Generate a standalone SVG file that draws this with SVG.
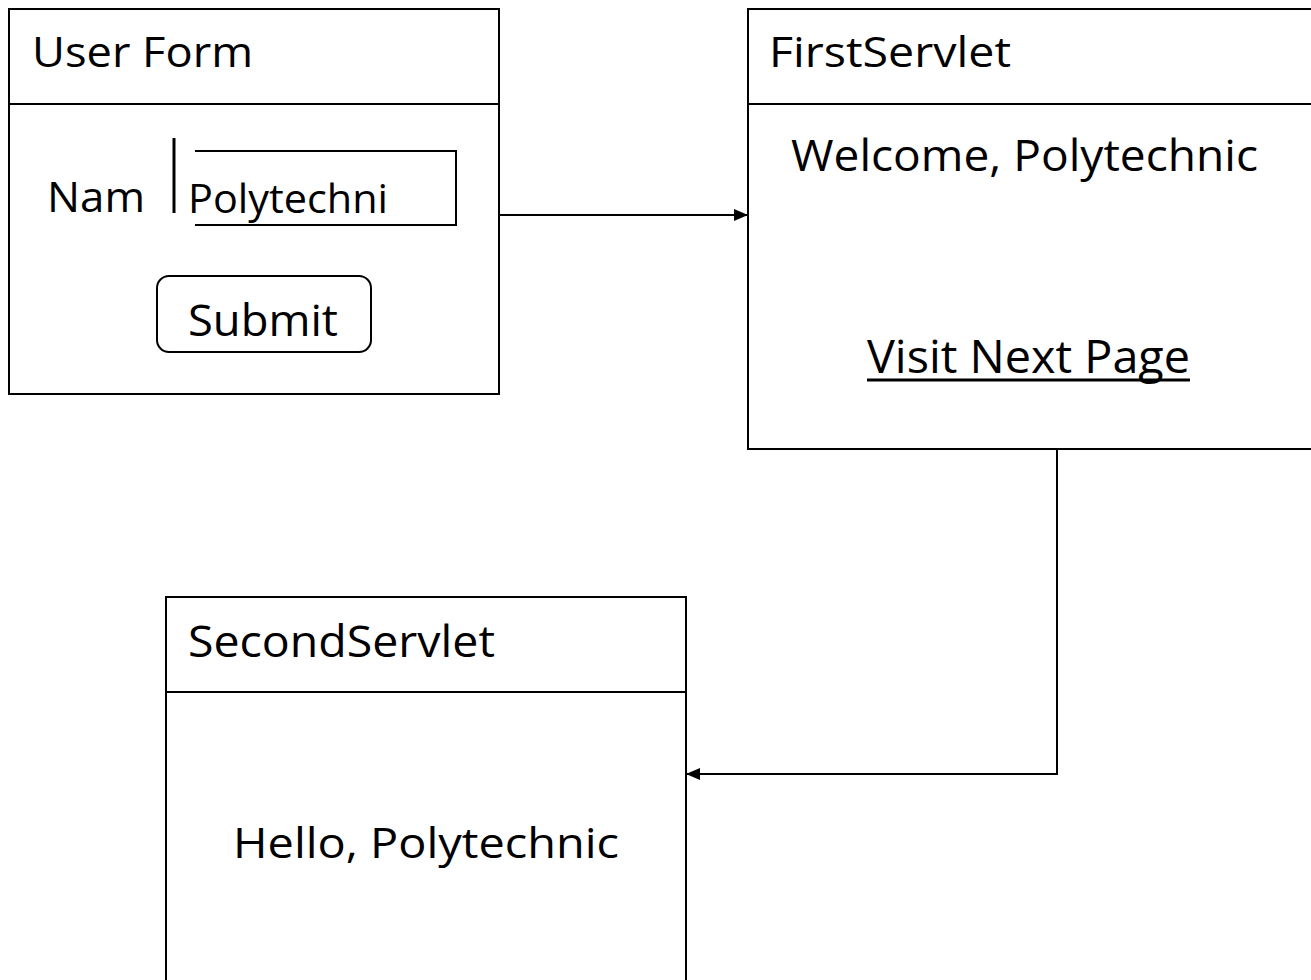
<svg xmlns="http://www.w3.org/2000/svg" width="1311" height="980" viewBox="0 0 1311 980">
<style>
.ln{stroke:#000;stroke-width:2;fill:none}
.t{font-family:"Open Sans","Liberation Sans",sans-serif;fill:#000}
</style>
<defs>
<marker id="ah" markerWidth="14" markerHeight="12" refX="14" refY="6" orient="auto" markerUnits="userSpaceOnUse" viewBox="0 0 14 12">
<path d="M0,0 L14,6 L0,12 z" fill="#000"/>
</marker>
</defs>
<rect width="1311" height="980" fill="#fff"/>
<g id="user-form">
<rect class="ln" x="9" y="9" width="490" height="385"/>
<line class="ln" x1="9" y1="104" x2="499" y2="104"/>
<text class="t" x="32" y="67" font-size="42" textLength="221" lengthAdjust="spacingAndGlyphs">User Form</text>
<text class="t" x="47" y="212" font-size="42" textLength="98" lengthAdjust="spacingAndGlyphs">Nam</text>
<line x1="174" y1="138" x2="174" y2="213" stroke="#000" stroke-width="3"/>
<polyline class="ln" points="195,151 456,151 456,225 195,225"/>
<text class="t" x="188" y="213" font-size="40" textLength="200" lengthAdjust="spacingAndGlyphs">Polytechni</text>
<rect class="ln" x="157" y="276" width="214" height="76" rx="12" stroke-width="1.5"/>
<text class="t" x="188" y="336" font-size="43" textLength="150" lengthAdjust="spacingAndGlyphs">Submit</text>
</g>
<g id="first-servlet">
<polyline class="ln" points="1312,9 748,9 748,449 1312,449"/>
<line class="ln" x1="748" y1="104" x2="1311" y2="104"/>
<text class="t" x="769" y="67" font-size="42" textLength="242" lengthAdjust="spacingAndGlyphs">FirstServlet</text>
<text class="t" x="791" y="171" font-size="44" textLength="467" lengthAdjust="spacingAndGlyphs">Welcome, Polytechnic</text>
<text class="t" x="867" y="373" font-size="45" textLength="323" lengthAdjust="spacingAndGlyphs">Visit Next Page</text>
<line x1="867" y1="380" x2="1190" y2="380" stroke="#000" stroke-width="3"/>
</g>
<g id="second-servlet">
<polyline class="ln" points="166,981 166,597 686,597 686,981"/>
<line class="ln" x1="166" y1="692" x2="686" y2="692"/>
<text class="t" x="188" y="657" font-size="43" textLength="307" lengthAdjust="spacingAndGlyphs">SecondServlet</text>
<text class="t" x="233" y="858" font-size="42" textLength="386" lengthAdjust="spacingAndGlyphs">Hello, Polytechnic</text>
</g>
<g id="connectors">
<line class="ln" x1="499" y1="215" x2="748" y2="215" marker-end="url(#ah)"/>
<polyline class="ln" points="1057,449 1057,774 686,774" marker-end="url(#ah)"/>
</g>
</svg>
